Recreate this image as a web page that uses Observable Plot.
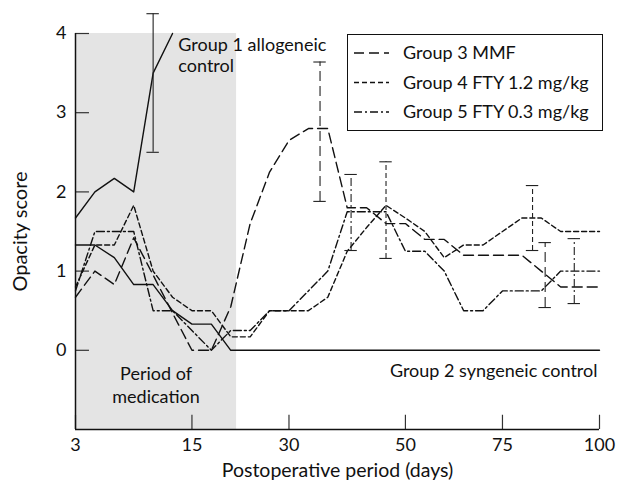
<!DOCTYPE html>
<html>
<head>
<meta charset="utf-8">
<script src="https://cdn.jsdelivr.net/npm/d3@7"></script>
<script src="https://cdn.jsdelivr.net/npm/@observablehq/plot@0.6"></script>
<style>
  html, body { margin: 0; padding: 0; background: white; }
  #wrap { position: relative; width: 617px; height: 483px; font-family: Lato, "Open Sans", sans-serif; }
  #legend { position: absolute; left: 347px; top: 34px; width: 256px; height: 97px;
            border: 1.3px solid #111; background: white; box-sizing: border-box; }
</style>
</head>
<body>
<div id="wrap"><div id="chart"></div><div id="legend"></div></div>
<script>
// Observation index (equally spaced sampling points on the x axis)
const obs = [0,1,2,3,4,5,6,7,8,9,10,11,12,13,14,15,16,17,18,19,20,21,22,23,24,25,26,27];
const tickIndex  = [0, 6, 11, 17, 22, 27];
const tickLabels = ["3", "15", "30", "50", "75", "100"];
const yTicks = [0, 1, 2, 3, 4];
const medicationEnd = 8.3;   // end of the period of medication (observation index)

// Opacity scores
const group1 = [1.67, 2.0, 2.17, 2.0, 3.5, 4.0];
const group2 = [1.33, 1.33, 1.17, 0.83, 0.83, 0.5, 0.33, 0.33, 0, 0, 0, 0, 0, 0, 0, 0, 0, 0, 0, 0, 0, 0, 0, 0, 0, 0, 0, 0];
const group3 = [0.67, 1.0, 0.83, 1.42, 0.95, 0.47, 0, 0, 0.55, 1.6, 2.25, 2.65, 2.8, 2.8, 1.8, 1.8, 1.6, 1.6, 1.4, 1.4, 1.2, 1.2, 1.2, 1.2, 1.0, 0.8, 0.8, 0.8];
const group4 = [0.8, 1.33, 1.33, 1.83, 1.0, 0.67, 0.5, 0.5, 0.17, 0.17, 0.5, 0.5, 0.5, 0.67, 1.25, 1.55, 1.83, 1.67, 1.5, 1.17, 1.33, 1.33, 1.5, 1.67, 1.67, 1.5, 1.5, 1.5];
const group5 = [0.75, 1.5, 1.5, 1.5, 0.5, 0.5, 0.25, 0, 0.25, 0.25, 0.5, 0.5, 0.75, 1.0, 1.75, 1.75, 1.75, 1.25, 1.25, 1.0, 0.5, 0.5, 0.75, 0.75, 0.75, 1.0, 1.0, 1.0];

// Error bars
const errGroup = [1, 3, 5, 4, 4, 3, 5];
const errX     = [4, 12.6, 14.2, 16, 23.55, 24.2, 25.7];
const errLo    = [2.5, 1.88, 1.26, 1.16, 1.26, 0.54, 0.59];
const errHi    = [4.25, 3.64, 2.22, 2.38, 2.08, 1.36, 1.41];

const legendNames = ["Group 3 MMF", "Group 4 FTY 1.2 mg/kg", "Group 5 FTY 0.3 mg/kg"];

const dash = {1: null, 2: null, 3: "10,5", 4: "5,3", 5: "8,3,2,3"};

const rows = (vals) => vals.map((v, k) => ({i: obs[k], v}));
const errs = errX.map((x, k) => ({x, lo: errLo[k], hi: errHi[k], g: errGroup[k]}));
const capHalf = 0.32;

const errMarks = [];
for (const g of [1, 3, 4, 5]) {
  const d = errs.filter(e => e.g === g);
  errMarks.push(Plot.ruleX(d, {x: "x", y1: "lo", y2: "hi", stroke: "#222", strokeWidth: 1.1, strokeDasharray: dash[g]}));
  errMarks.push(Plot.ruleY(d, {y: "lo", x1: e => e.x - capHalf, x2: e => e.x + capHalf, stroke: "#222", strokeWidth: 1.1}));
  errMarks.push(Plot.ruleY(d, {y: "hi", x1: e => e.x - capHalf, x2: e => e.x + capHalf, stroke: "#222", strokeWidth: 1.1}));
}

const chart = Plot.plot({
  width: 617, height: 483,
  marginLeft: 75, marginRight: 18, marginTop: 33, marginBottom: 54,
  x: {domain: [0, 27]},
  y: {domain: [-1, 4]},
  style: {fontFamily: "Lato, 'Open Sans', sans-serif", fontSize: "18px", color: "#111", background: "white"},
  marks: [
    Plot.rect([{a: 0, b: medicationEnd}], {x1: "a", x2: "b", y1: -1, y2: 4, fill: "#e4e4e4"}),
    // inward ticks
    Plot.ruleY(yTicks, {y: d => d, x1: 0, x2: 0.72, stroke: "#333", strokeWidth: 1.2}),
    Plot.ruleX(tickIndex, {x: d => d, y1: -1, y2: -0.82, stroke: "#333", strokeWidth: 1.2}),
    // axis lines
    Plot.ruleX([0], {y1: -1, y2: 4, stroke: "#111", strokeWidth: 1.5}),
    Plot.ruleY([-1], {x1: 0, x2: 27, stroke: "#111", strokeWidth: 1.5}),
    Plot.axisY(yTicks, {tickSize: 0, tickPadding: 9, label: null, fontSize: 18, tickFormat: d => String(d)}),
    Plot.axisX(tickIndex, {tickSize: 0, tickPadding: 9, label: null, fontSize: 18,
      tickFormat: d => tickLabels[tickIndex.indexOf(d)]}),
    // series
    Plot.line(rows(group2), {x: "i", y: "v", stroke: "#111", strokeWidth: 1.4}),
    Plot.line(rows(group1), {x: "i", y: "v", stroke: "#111", strokeWidth: 1.4}),
    Plot.line(rows(group3), {x: "i", y: "v", stroke: "#111", strokeWidth: 1.4, strokeDasharray: dash[3]}),
    Plot.line(rows(group4), {x: "i", y: "v", stroke: "#111", strokeWidth: 1.4, strokeDasharray: dash[4]}),
    Plot.line(rows(group5), {x: "i", y: "v", stroke: "#111", strokeWidth: 1.4, strokeDasharray: dash[5]}),
    ...errMarks,
    // annotations
    Plot.text(["Group 1 allogeneic\ncontrol"], {x: 5.3, y: 4, text: d => d, textAnchor: "start", lineAnchor: "top", dy: 2, lineHeight: 1.2, fontSize: 18}),
    Plot.text(["Group 2 syngeneic control"], {x: 27, y: -0.26, text: d => d, textAnchor: "end", dx: -2, fontSize: 18}),
    Plot.text(["Period of\nmedication"], {x: medicationEnd / 2, y: -0.43, text: d => d, lineHeight: 1.25, fontSize: 18}),
    Plot.text(["Postoperative period (days)"], {frameAnchor: "bottom", dy: 41, lineAnchor: "middle", textAnchor: "middle", text: d => d, fontSize: 19.5}),
    Plot.text(["Opacity score"], {frameAnchor: "left", dx: -55, rotate: -90, textAnchor: "middle", lineAnchor: "middle", text: d => d, fontSize: 20})
  ]
});
document.getElementById("chart").appendChild(chart);

// Legend (drawn inside the plot frame, top right)
const lg = d3.select("#legend").append("svg").attr("width", 254).attr("height", 95)
  .style("font-family", "Lato, 'Open Sans', sans-serif");
legendNames.forEach((name, k) => {
  const g = [3, 4, 5][k];
  const y = 18 + k * 29.5;
  lg.append("line").attr("x1", 6).attr("x2", 41).attr("y1", y).attr("y2", y)
    .attr("stroke", "#111").attr("stroke-width", 1.4).attr("stroke-dasharray", dash[g]);
  lg.append("text").attr("x", 55).attr("y", y).attr("dy", "0.35em")
    .attr("font-size", 18).attr("fill", "#111").text(name);
});
</script>
</body>
</html>
